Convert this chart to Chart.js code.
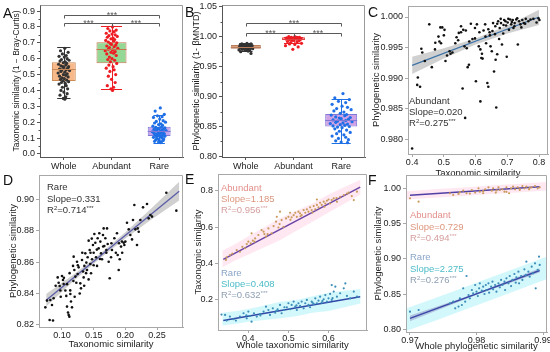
<!DOCTYPE html>
<html>
<head>
<meta charset="utf-8">
<script src="https://cdn.jsdelivr.net/npm/chart.js@4.4.1/dist/chart.umd.min.js"></script>
<style>
body { margin: 0; width: 550px; height: 352px; background: #fff; position: relative; overflow: hidden; font-family: 'Liberation Sans', Arial, sans-serif; }
canvas { position: absolute; }
.lab { position: absolute; font-size: 14px; line-height: 14px; color: #111; }
.note { position: absolute; font-size: 9.5px; line-height: 11px; white-space: nowrap; color: #333; }
.note sup { font-size: 6px; vertical-align: 3px; line-height: 0; }
</style>
</head>
<body>
<canvas id="cA"></canvas>
<canvas id="cB"></canvas>
<canvas id="cC"></canvas>
<canvas id="cD"></canvas>
<canvas id="cE"></canvas>
<canvas id="cF"></canvas>

<div class="lab" style="left:3px;top:6px">A</div>
<div class="lab" style="left:185px;top:5px">B</div>
<div class="lab" style="left:368px;top:5px">C</div>
<div class="lab" style="left:3px;top:173px">D</div>
<div class="lab" style="left:185px;top:172px">E</div>
<div class="lab" style="left:368px;top:173px">F</div>

<div class="note" style="left:409px;top:95px">Abundant<br>Slope=0.020<br>R<sup>2</sup>=0.275<sup>***</sup></div>
<div class="note" style="left:47px;top:181px;line-height:11.5px">Rare<br>Slope=0.331<br>R<sup>2</sup>=0.714<sup>***</sup></div>
<div class="note" style="left:221px;top:182px"><span style="color:#e38f8a">Abundant</span><br><span style="color:#dc967e">Slope=1.185</span><br><span style="color:#d69e9e">R<sup>2</sup>=0.956<sup>***</sup></span></div>
<div class="note" style="left:221px;top:267px"><span style="color:#8aa5c8">Rare</span><br><span style="color:#4dbcc8">Slope=0.408</span><br><span style="color:#8fa0b4">R<sup>2</sup>=0.632<sup>***</sup></span></div>
<div class="note" style="left:410px;top:209px;line-height:11.5px"><span style="color:#e38f8a">Abundant</span><br><span style="color:#dc967e">Slope=0.729</span><br><span style="color:#d69e9e">R<sup>2</sup>=0.494<sup>***</sup></span></div>
<div class="note" style="left:410px;top:251px;line-height:11.5px"><span style="color:#8aa5c8">Rare</span><br><span style="color:#4dbcc8">Slope=2.275</span><br><span style="color:#8fa0b4">R<sup>2</sup>=0.276<sup>***</sup></span></div>

<script>
const FONT = "'Liberation Sans', Arial, sans-serif";
Chart.defaults.font.family = FONT;

const CATS = ['Whole', 'Abundant', 'Rare'];
const PT = ['#333333', '#ee1d23', '#1f6fe6'];
// hand-typed jitter offsets for the box plot points
const JIT = [0.02,-0.07,0.09,-0.03,0.05,-0.10,0.01,0.07,-0.05,0.11,-0.08,0.03,-0.01,0.06,-0.11,0.04,-0.06,0.10,-0.02,0.00,
  0.08,-0.09,0.05,-0.04,0.12,-0.06,0.02,-0.12,0.07,-0.01,0.04,-0.09,0.09,-0.04,0.01,-0.07,0.06,-0.02,0.10,-0.05,
  0.03,-0.10,0.05,-0.03,0.08,-0.06,0.00,0.07,-0.08,0.04,-0.01,0.02];

// ---- A: taxonomic similarity
const aWholeY = [0.665,0.65,0.64,0.63,0.62,0.615,0.61,0.60,0.595,0.59,0.585,0.58,0.575,0.57,0.565,0.56,0.555,0.55,0.55,0.545,
  0.54,0.535,0.53,0.53,0.525,0.52,0.515,0.51,0.505,0.50,0.495,0.49,0.485,0.48,0.475,0.47,0.465,0.46,0.455,0.45,
  0.445,0.44,0.43,0.42,0.41,0.40,0.39,0.38,0.37,0.36,0.35,0.345];
const aAbunY = [0.80,0.79,0.78,0.775,0.77,0.76,0.755,0.75,0.745,0.74,0.735,0.73,0.725,0.72,0.715,0.71,0.705,0.70,0.695,0.69,
  0.685,0.68,0.675,0.67,0.665,0.66,0.655,0.65,0.645,0.64,0.635,0.63,0.62,0.61,0.60,0.595,0.59,0.58,0.57,0.56,
  0.55,0.54,0.53,0.52,0.50,0.49,0.47,0.45,0.43,0.42,0.41,0.40];
const aRareY = [0.29,0.27,0.25,0.24,0.235,0.23,0.22,0.21,0.205,0.20,0.195,0.19,0.185,0.18,0.175,0.17,0.168,0.165,0.162,0.16,
  0.157,0.155,0.152,0.15,0.148,0.145,0.142,0.14,0.138,0.135,0.132,0.13,0.127,0.125,0.122,0.12,0.117,0.115,0.112,0.11,
  0.107,0.105,0.10,0.097,0.095,0.09,0.087,0.085,0.08,0.077,0.075,0.072];
const aLow = [0.35, 0.407, 0.07];
const aQ1 = [0.46, 0.571, 0.113];
const aMed = [0.535, 0.658, 0.145];
const aQ3 = [0.577, 0.703, 0.172];
const aHigh = [0.671, 0.805, 0.245];
const aYTicks = [0, 0.1, 0.2, 0.3, 0.4, 0.5, 0.6, 0.7, 0.8, 0.9];
const aYMinor = [0.05, 0.15, 0.25, 0.35, 0.45, 0.55, 0.65, 0.75, 0.85];
const aBrackets = [[0, 2, 0.874], [0, 1, 0.826], [1, 2, 0.826]];

// ---- B: phylogenetic similarity
const bWholeY = [0.989,0.988,0.988,0.987,0.987,0.986,0.986,0.985,0.985,0.985,0.984,0.984,0.984,0.983,0.983,0.983,0.982,0.982,
  0.982,0.981,0.981,0.981,0.980,0.980,0.980,0.979,0.979,0.978,0.978,0.977,0.976,0.975,0.972];
const bAbunY = [1.000,1.000,0.999,0.999,0.999,0.998,0.998,0.998,0.998,0.997,0.997,0.997,0.997,0.996,0.996,0.996,0.995,0.995,
  0.994,0.994,0.993,0.992,0.991,0.990,0.989,0.988,0.987,0.985,0.983,0.979];
const bRareY = [0.905,0.898,0.895,0.892,0.890,0.887,0.884,0.882,0.880,0.878,0.876,0.874,0.872,0.870,0.869,0.868,0.866,0.865,
  0.864,0.863,0.862,0.861,0.860,0.859,0.858,0.857,0.856,0.855,0.854,0.853,0.852,0.851,0.850,0.849,0.848,0.846,
  0.844,0.842,0.840,0.838,0.836,0.834,0.832,0.830,0.828,0.826,0.824,0.823];
const bLow = [0.976, 0.990, 0.822];
const bQ1 = [0.980, 0.995, 0.850];
const bMed = [0.983, 0.997, 0.860];
const bQ3 = [0.986, 0.999, 0.871];
const bHigh = [0.989, 1.000, 0.896];
const bYTicks = [0.80, 0.85, 0.90, 0.95, 1.00, 1.05];
const bYMinor = [0.825, 0.875, 0.925, 0.975, 1.025];
const bBrackets = [[0, 2, 1.0223], [0, 1, 1.0056], [1, 2, 1.0056]];

// ---- C: abundant, taxonomic vs phylogenetic
const cPoints = [[0.400,0.9785],[0.416,0.9889],[0.418,0.9901],[0.425,0.9886],[0.429,0.9948],[0.432,0.9942],[0.440,0.9928],
  [0.454,0.9988],[0.462,0.9918],[0.472,0.9947],[0.473,0.9958],[0.483,0.9968],[0.486,0.9960],[0.489,0.9983],[0.491,0.9957],
  [0.495,0.9983],[0.500,0.9970],[0.502,0.9979],[0.505,0.9928],[0.510,0.9937],[0.518,0.9944],[0.521,0.9940],[0.536,0.9957],
  [0.540,0.9967],[0.547,0.9974],[0.554,0.9975],[0.554,0.9985],[0.559,0.9883],[0.561,0.9979],[0.565,0.9952],[0.567,0.9835],
  [0.569,0.9978],[0.572,0.9949],[0.579,0.9922],[0.585,0.9989],[0.590,0.9964],[0.598,0.9982],[0.601,0.9895],[0.604,0.9988],
  [0.610,0.9952],[0.615,0.9862],[0.615,0.9947],[0.620,0.9940],[0.622,0.9932],[0.625,0.9978],[0.631,0.9968],[0.633,0.9957],
  [0.637,0.9892],[0.640,0.9886],[0.644,0.9975],[0.647,0.9952],[0.651,0.9944],[0.653,0.9977],[0.658,0.9911],[0.661,0.9972],
  [0.665,0.9852],[0.668,0.9939],[0.668,0.9989],[0.674,0.9964],[0.676,0.9982],[0.680,0.9990],[0.683,0.9955],[0.687,0.9973],
  [0.690,0.9995],[0.696,0.9986],[0.698,0.9935],[0.701,0.9991],[0.705,0.9979],[0.709,0.9996],[0.712,0.9988],[0.717,0.9995],
  [0.719,0.9982],[0.723,0.9990],[0.728,0.9996],[0.733,0.9955],[0.737,0.9993],[0.741,0.9988],[0.747,0.9995],[0.752,0.9990],
  [0.758,0.9997],[0.766,0.9993],[0.773,0.9996],[0.782,0.9997],[0.792,0.9991],[0.798,0.9998],[0.801,0.9995],[0.655,0.9990],
  [0.662,0.9985],[0.671,0.9993],[0.679,0.9997],[0.688,0.9987],[0.694,0.9993],[0.703,0.9997],[0.714,0.9992],[0.722,0.9985],
  [0.731,0.9998],[0.744,0.9983],[0.756,0.9989],[0.640,0.9980],[0.645,0.9970],[0.630,0.9988],[0.612,0.9975],[0.598,0.9965],
  [0.580,0.9960],[0.527,0.9942],[0.545,0.9962],[0.575,0.9918],[0.618,0.9933],[0.663,0.9930]];
const cFitX = [0.4, 0.8];
const cFitY = [0.9921, 1.0000];
const cBandX = [0.4, 0.5, 0.6, 0.7, 0.8];
const cBandHi = [0.9935, 0.9949, 0.9965, 0.9986, 1.0012];
const cBandLo = [0.9907, 0.9932, 0.9955, 0.9973, 0.9987];
const cXTicks = [0.4, 0.5, 0.6, 0.7, 0.8];
const cYTicks = [0.980, 0.985, 0.990, 0.995, 1.000];

// ---- D: rare, taxonomic vs phylogenetic
const dPoints = [[0.0737,0.8312],[0.0763,0.8355],[0.0816,0.8359],[0.0805,0.8232],[0.0858,0.8228],[0.0842,0.8327],[0.0868,0.8370],
  [0.0932,0.8503],[0.0947,0.8469],[0.0963,0.8448],[0.0974,0.8419],[0.1000,0.8512],[0.1016,0.8486],[0.1026,0.8461],[0.1053,0.8419],
  [0.1068,0.8385],[0.1079,0.8317],[0.1095,0.8279],[0.1105,0.8264],[0.1116,0.8253],[0.1132,0.8397],[0.1142,0.8349],[0.1158,0.8312],
  [0.1174,0.8576],[0.1184,0.8635],[0.1195,0.8550],[0.1211,0.8508],[0.1226,0.8469],[0.1237,0.8603],[0.1247,0.8525],[0.1263,0.8567],
  [0.1289,0.8465],[0.1300,0.8433],[0.1316,0.8614],[0.1332,0.8540],[0.1342,0.8503],[0.1353,0.8576],[0.1368,0.8656],[0.1384,0.8597],
  [0.1395,0.8550],[0.1405,0.8631],[0.1421,0.8737],[0.1437,0.8677],[0.1447,0.8588],[0.1458,0.8529],[0.1474,0.8618],[0.1489,0.8709],
  [0.1500,0.8660],[0.1511,0.8779],[0.1526,0.8724],[0.1537,0.8631],[0.1553,0.8576],[0.1563,0.8752],[0.1579,0.8688],[0.1589,0.8784],
  [0.1605,0.8731],[0.1616,0.8656],[0.1632,0.8618],[0.1647,0.8773],[0.1658,0.8815],[0.1668,0.8703],[0.1684,0.8752],[0.1700,0.8677],
  [0.1711,0.8815],[0.1721,0.8716],[0.1737,0.8603],[0.1753,0.8497],[0.1774,0.8631],[0.1789,0.8677],[0.1826,0.8752],[0.1868,0.8784],
  [0.1879,0.8646],[0.1895,0.8550],[0.1911,0.8618],[0.1932,0.8699],[0.1947,0.8731],[0.1974,0.8724],[0.1984,0.8709],[0.2000,0.8731],
  [0.2026,0.8851],[0.2053,0.8809],[0.2079,0.8773],[0.2105,0.8745],[0.2121,0.8868],[0.2142,0.8964],[0.2158,0.8809],[0.2184,0.8709],
  [0.2195,0.8815],[0.2211,0.8794],[0.2237,0.8868],[0.2279,0.8949],[0.2342,0.8970],[0.2368,0.8879],[0.2395,0.8900],[0.2421,0.8890],
  [0.2647,0.9042],[0.2805,0.8928],[0.125,0.858],[0.132,0.866],[0.138,0.853],[0.145,0.866],[0.150,0.858],[0.155,0.868],[0.160,0.862],
  [0.142,0.849],[0.118,0.848],[0.112,0.853],[0.108,0.846],[0.103,0.850],[0.128,0.840],[0.135,0.845],[0.165,0.870],[0.170,0.866],
  [0.178,0.872],[0.185,0.866],[0.190,0.872],[0.195,0.866],[0.147,0.875],[0.120,0.838],[0.098,0.838],[0.090,0.845],[0.113,0.842]];
const dFitX = [0.075, 0.285];
const dFitY = [0.8357, 0.9052];
const dBandX = [0.075, 0.12, 0.16, 0.20, 0.24, 0.285];
const dBandHi = [0.8397, 0.8526, 0.8653, 0.8791, 0.8938, 0.9112];
const dBandLo = [0.8317, 0.8486, 0.8623, 0.8751, 0.8868, 0.8992];
const dXTicks = [0.10, 0.15, 0.20, 0.25];
const dYTicks = [0.82, 0.84, 0.86, 0.88, 0.90];

// ---- E: whole vs abundant / rare taxonomic similarity
const eAbun = [[0.344,0.420],[0.346,0.434],[0.354,0.447],[0.371,0.474],[0.379,0.465],[0.392,0.484],[0.396,0.507],[0.400,0.520],
  [0.406,0.511],[0.411,0.526],[0.408,0.566],[0.417,0.538],[0.425,0.557],[0.433,0.584],[0.438,0.575],[0.444,0.548],[0.448,0.562],
  [0.450,0.593],[0.458,0.566],[0.463,0.606],[0.469,0.630],[0.471,0.657],[0.478,0.617],[0.483,0.639],[0.488,0.602],[0.494,0.648],
  [0.500,0.657],[0.504,0.679],[0.508,0.654],[0.513,0.666],[0.517,0.679],[0.521,0.657],[0.525,0.685],[0.529,0.676],[0.533,0.666],
  [0.538,0.694],[0.542,0.679],[0.546,0.698],[0.550,0.685],[0.554,0.709],[0.558,0.694],[0.563,0.716],[0.567,0.698],[0.571,0.722],
  [0.575,0.709],[0.579,0.734],[0.583,0.722],[0.588,0.740],[0.592,0.730],[0.596,0.745],[0.600,0.752],[0.604,0.730],[0.608,0.749],
  [0.613,0.758],[0.621,0.740],[0.629,0.767],[0.638,0.776],[0.646,0.785],[0.658,0.771],[0.671,0.795],[0.663,0.749],[0.571,0.752],
  [0.479,0.685],[0.360,0.455],[0.385,0.492],[0.415,0.520],[0.440,0.562],[0.475,0.598],[0.505,0.640],[0.530,0.660],[0.560,0.680],
  [0.590,0.712],[0.620,0.760],[0.650,0.790]];
const eRare = [[0.333,0.120],[0.342,0.118],[0.346,0.087],[0.354,0.109],[0.363,0.094],[0.369,0.087],[0.379,0.109],[0.388,0.127],
  [0.396,0.099],[0.400,0.136],[0.404,0.112],[0.408,0.081],[0.414,0.127],[0.421,0.109],[0.429,0.123],[0.438,0.136],[0.444,0.163],
  [0.450,0.145],[0.454,0.118],[0.461,0.154],[0.467,0.130],[0.473,0.149],[0.479,0.173],[0.483,0.127],[0.489,0.145],[0.496,0.160],
  [0.500,0.182],[0.504,0.149],[0.508,0.173],[0.513,0.191],[0.517,0.163],[0.521,0.145],[0.525,0.182],[0.529,0.167],[0.533,0.191],
  [0.538,0.154],[0.542,0.182],[0.546,0.200],[0.550,0.173],[0.554,0.160],[0.558,0.191],[0.563,0.178],[0.567,0.209],[0.571,0.182],
  [0.575,0.196],[0.579,0.218],[0.583,0.185],[0.588,0.204],[0.592,0.227],[0.596,0.191],[0.600,0.209],[0.604,0.233],[0.608,0.200],
  [0.613,0.246],[0.617,0.273],[0.621,0.218],[0.629,0.237],[0.638,0.264],[0.642,0.291],[0.646,0.222],[0.654,0.209],[0.663,0.246],
  [0.671,0.218],[0.608,0.282],[0.470,0.140],[0.490,0.160],[0.520,0.170],[0.560,0.185],[0.585,0.195],[0.610,0.210],[0.430,0.115],
  [0.395,0.115]];
const eFitX = [0.3375, 0.679];
const eAbunFitY = [0.423, 0.820];
const eRareFitY = [0.087, 0.218];
const eBandX = [0.335, 0.37, 0.40, 0.44, 0.48, 0.52, 0.56, 0.60, 0.64, 0.68];
const eAbunHi = [0.47, 0.51, 0.55, 0.60, 0.65, 0.69, 0.73, 0.78, 0.82, 0.86];
const eAbunLo = [0.38, 0.42, 0.45, 0.49, 0.53, 0.58, 0.63, 0.68, 0.73, 0.78];
const eRareHi = [0.13, 0.14, 0.15, 0.17, 0.19, 0.20, 0.22, 0.24, 0.25, 0.26];
const eRareLo = [0.06, 0.07, 0.08, 0.09, 0.10, 0.11, 0.13, 0.14, 0.16, 0.18];
const eXTicks = [0.4, 0.5, 0.6];
const eYTicks = [0.2, 0.4, 0.6, 0.8];

// ---- F: whole vs abundant / rare phylogenetic similarity
const fAbun = [[0.9700,0.9858],[0.9713,0.9810],[0.9760,0.9930],[0.9765,0.9905],[0.9773,0.9920],[0.9780,0.9967],[0.9785,0.9930],
  [0.9793,0.9976],[0.9798,0.9939],[0.9803,1.0000],[0.9805,0.9953],[0.9810,0.9930],[0.9813,0.9986],[0.9818,1.0014],[0.9823,0.9967],
  [0.9825,1.0000],[0.9829,0.9939],[0.9833,1.0014],[0.9835,0.9976],[0.9839,0.9986],[0.9842,0.9953],[0.9845,1.0014],[0.9849,0.9930],
  [0.9852,1.0000],[0.9855,1.0024],[0.9858,0.9986],[0.9862,1.0014],[0.9865,0.9976],[0.9869,1.0033],[0.9872,1.0000],[0.9875,1.0024],
  [0.9879,0.9986],[0.9883,1.0014],[0.9888,1.0033],[0.9892,1.0000],[0.9895,1.0014],[0.9775,0.9945],[0.9790,0.9925],[0.9810,0.9960],
  [0.9830,0.9970],[0.9845,0.9950],[0.9865,0.9990],[0.9880,1.0005]];
const fRare = [[0.9700,0.8250],[0.9713,0.8274],[0.9760,0.8369],[0.9765,0.8392],[0.9768,0.8298],[0.9773,0.8322],[0.9775,0.8440],
  [0.9778,0.8345],[0.9783,0.8392],[0.9780,0.8582],[0.9785,0.8756],[0.9788,0.8487],[0.9790,0.8440],[0.9793,0.8558],[0.9795,0.8511],
  [0.9798,0.8629],[0.9800,0.8534],[0.9802,0.8473],[0.9804,0.8582],[0.9805,0.8652],[0.9808,0.8548],[0.9810,0.8605],[0.9812,0.8501],
  [0.9814,0.8629],[0.9815,0.8558],[0.9818,0.8652],[0.9819,0.8520],[0.9822,0.8605],[0.9824,0.8676],[0.9825,0.8567],[0.9828,0.8629],
  [0.9830,0.8534],[0.9833,0.8652],[0.9835,0.8596],[0.9837,0.8700],[0.9839,0.8629],[0.9842,0.8676],[0.9843,0.8558],[0.9845,0.8723],
  [0.9848,0.8652],[0.9850,0.8756],[0.9852,0.8614],[0.9854,0.8700],[0.9857,0.8785],[0.9859,0.8662],[0.9860,0.8738],[0.9863,0.8818],
  [0.9864,0.8652],[0.9867,0.8756],[0.9869,0.8700],[0.9872,0.8851],[0.9874,0.8771],[0.9875,0.8960],[0.9878,0.8818],[0.9880,0.8747],
  [0.9883,0.8889],[0.9885,0.8794],[0.9888,0.8936],[0.9889,0.8582],[0.9892,0.8842],[0.9894,0.9031],[0.9895,0.8913]];
const fFitX = [0.970, 0.9895];
const fAbunFitY = [0.9903, 1.0022];
const fRareFitY = [0.8155, 0.8835];
const fBandX = [0.9695, 0.974, 0.978, 0.982, 0.986, 0.9905];
const fAbunHi = [0.996, 0.999, 1.001, 1.004, 1.006, 1.009];
const fAbunLo = [0.984, 0.987, 0.989, 0.992, 0.994, 0.997];
const fRareHi = [0.830, 0.845, 0.859, 0.873, 0.887, 0.903];
const fRareLo = [0.798, 0.813, 0.827, 0.841, 0.855, 0.871];
const fCiX = [0.970, 0.980, 0.9895];
const fCiHi = [0.8195, 0.8510, 0.8865];
const fCiLo = [0.8115, 0.8490, 0.8805];
const fXTicks = [0.97, 0.98, 0.99];
const fYTicks = [0.80, 0.85, 0.90, 0.95, 1.00];

// ---------- layout helpers
const PAD = 12;
function place(id, r) {
  const c = document.getElementById(id);
  c.width = r.r - r.l + r.yw + PAD;
  c.height = r.b - r.t + r.xh + PAD;
  c.style.left = (r.l - r.yw) + 'px';
  c.style.top = (r.t - PAD) + 'px';
  return c;
}

function axis(o) {
  return {
    type: 'linear', min: o.min, max: o.max, offset: false,
    afterBuildTicks: s => { s.ticks = o.ticks.map(v => ({value: v})); },
    afterFit: s => { if (s.isHorizontal()) s.height = o.fit; else s.width = o.fit; },
    ticks: { callback: o.fmt, autoSkip: false, maxRotation: 0, padding: o.pad === undefined ? 2 : o.pad, color: '#222', font: {size: o.size || 9} },
    grid: { offset: false, drawOnChartArea: false, drawTicks: true, tickLength: 3, color: o.color, tickColor: o.color },
    border: { display: true, color: o.color, width: 1 },
    title: { display: !!o.title, text: o.title, padding: 0, color: '#222', font: {size: o.tsize || 9.5} }
  };
}

function pts(pairs) { return pairs.map(p => ({x: p[0], y: p[1]})); }
function xy(xs, ys) { return xs.map((x, i) => ({x: x, y: ys[i]})); }

const framePlugin = {
  id: 'frame',
  afterDatasetsDraw(chart, args, o) {
    const {ctx, chartArea: a, scales: {y}} = chart;
    const L = Math.round(a.left) + 0.5, T = Math.round(a.top) + 0.5;
    const R = Math.round(a.right) - 0.5, B = Math.round(a.bottom) + 0.5;
    ctx.save();
    ctx.lineWidth = 1;
    ctx.strokeStyle = o.color;
    ctx.beginPath();
    ctx.moveTo(L, T); ctx.lineTo(R, T); ctx.lineTo(R, B);
    ctx.stroke();
    if (o.minor) {
      ctx.strokeStyle = o.tickColor;
      ctx.beginPath();
      o.minor.forEach(v => {
        const py = Math.round(y.getPixelForValue(v)) + 0.5;
        ctx.moveTo(L - 2, py); ctx.lineTo(L, py);
      });
      ctx.stroke();
    }
    ctx.restore();
  }
};

const boxPlugin = {
  id: 'boxes',
  beforeDatasetsDraw(chart, args, o) {
    const {ctx, scales: {x, y}} = chart;
    ctx.save();
    ctx.lineWidth = 1;
    o.low.forEach((lo, i) => {
      const px = Math.round(x.getPixelForValue(i)) + 0.5;
      ctx.strokeStyle = o.whisker[i];
      ctx.beginPath();
      ctx.moveTo(px, y.getPixelForValue(lo)); ctx.lineTo(px, y.getPixelForValue(o.q1[i]));
      ctx.moveTo(px, y.getPixelForValue(o.q3[i])); ctx.lineTo(px, y.getPixelForValue(o.high[i]));
      ctx.stroke();
    });
    ctx.restore();
  },
  afterDatasetsDraw(chart, args, o) {
    const {ctx, scales: {x, y}} = chart;
    ctx.save();
    ctx.lineWidth = 1;
    o.low.forEach((lo, i) => {
      const cap = o.cap[i], half = o.boxW[i] / 2;
      ctx.strokeStyle = o.whisker[i];
      ctx.beginPath();
      [lo, o.high[i]].forEach(v => {
        const py = Math.round(y.getPixelForValue(v)) + 0.5;
        ctx.moveTo(x.getPixelForValue(i - cap), py); ctx.lineTo(x.getPixelForValue(i + cap), py);
      });
      ctx.stroke();
      ctx.strokeStyle = o.edge[i];
      ctx.beginPath();
      const pm = Math.round(y.getPixelForValue(o.med[i])) + 0.5;
      ctx.moveTo(x.getPixelForValue(i - half), pm); ctx.lineTo(x.getPixelForValue(i + half), pm);
      ctx.stroke();
    });
    ctx.strokeStyle = '#5a5a5a';
    ctx.fillStyle = '#5a5a5a';
    ctx.font = '9px ' + FONT;
    ctx.textAlign = 'center';
    ctx.textBaseline = 'alphabetic';
    o.brackets.forEach(([a, b, v]) => {
      const x1 = Math.round(x.getPixelForValue(a)) + 0.5, x2 = Math.round(x.getPixelForValue(b)) + 0.5;
      const py = Math.round(y.getPixelForValue(v)) + 0.5;
      ctx.beginPath();
      ctx.moveTo(x1, py + 3); ctx.lineTo(x1, py); ctx.lineTo(x2, py); ctx.lineTo(x2, py + 3);
      ctx.stroke();
      ctx.fillText('***', (x1 + x2) / 2, py + 2);
    });
    ctx.restore();
  }
};

function baseOptions(xA, yA, plugins) {
  return {
    responsive: false, animation: false, events: [],
    layout: { padding: { top: PAD, right: PAD, left: 0, bottom: 0 } },
    plugins: Object.assign({ legend: {display: false}, tooltip: {enabled: false} }, plugins),
    scales: { x: xA, y: yA }
  };
}

function boxChart(id, rect, ys, spread, st, fills, edges, boxW, cap, yAxis, minor, brackets) {
  const datasets = ys.map((arr, i) => ({
    data: arr.map((v, k) => ({x: i + JIT[k] * spread[i], y: v})),
    pointRadius: 1.6, pointBorderWidth: 0, backgroundColor: PT[i], borderColor: PT[i]
  }));
  CATS.forEach((c, i) => datasets.push({
    type: 'bar', data: [{x: i, y: [st.q1[i], st.q3[i]]}],
    grouped: false, categoryPercentage: 1, barPercentage: boxW[i],
    backgroundColor: fills[i], borderColor: edges[i], borderWidth: 1, borderSkipped: false
  }));
  const xA = axis({min: -0.5, max: 2.5, ticks: [0, 1, 2], fmt: v => CATS[v], fit: rect.xh, color: '#555', pad: 1});
  return new Chart(place(id, rect), {
    type: 'scatter',
    data: { datasets },
    options: baseOptions(xA, yAxis, {
      frame: { color: '#9a9a9a', tickColor: '#555', minor },
      boxes: { low: st.low, q1: st.q1, med: st.med, q3: st.q3, high: st.high, whisker: PT, edge: edges, boxW, cap, brackets }
    }),
    plugins: [boxPlugin, framePlugin]
  });
}

// ---------- A
boxChart('cA', {l: 40, t: 5, r: 183, b: 157, yw: 28, xh: 18},
  [aWholeY, aAbunY, aRareY], [1.0, 1.1, 1.2],
  {low: aLow, q1: aQ1, med: aMed, q3: aQ3, high: aHigh},
  ['#f7b98a', '#95d895', '#c7a6ec'], ['#c98a55', '#c7754f', '#7f78d6'],
  [0.5, 0.63, 0.48], [0.14, 0.22, 0.12],
  axis({min: -0.019, max: 0.938, ticks: aYTicks, fmt: v => v.toFixed(1), fit: 28, color: '#555',
    title: 'Taxonomic similarity (1 \u2212 Bray-Curtis)', tsize: 8.5}),
  aYMinor, aBrackets);

// ---------- B
boxChart('cB', {l: 222, t: 5, r: 365, b: 157, yw: 31, xh: 18},
  [bWholeY, bAbunY, bRareY], [1.2, 1.4, 1.9],
  {low: bLow, q1: bQ1, med: bMed, q3: bQ3, high: bHigh},
  ['#d9a07e', '#f08a8a', '#cfa2e6'], ['#b97d5c', '#e04040', '#7f78d6'],
  [0.63, 0.48, 0.67], [0.14, 0.2, 0.2],
  axis({min: 0.799, max: 1.053, ticks: bYTicks, fmt: v => v.toFixed(2), fit: 31, color: '#555',
    title: 'Phylogenetic similarity (1- \u03b2MNTD)', tsize: 9}),
  bYMinor, bBrackets);

// ---------- scatter panels
function lineSet(data, color, width) {
  return { type: 'line', data, borderColor: color, borderWidth: width, pointRadius: 0, fill: false };
}
function bandSet(hi, lo, color) {
  return [
    { type: 'line', data: hi, borderColor: 'transparent', pointRadius: 0, fill: '+1', backgroundColor: color },
    { type: 'line', data: lo, borderColor: 'transparent', pointRadius: 0, fill: false }
  ];
}
function scatterChart(id, rect, datasets, xA, yA) {
  return new Chart(place(id, rect), {
    type: 'scatter',
    data: { datasets },
    options: baseOptions(xA, yA, { frame: { color: '#a8a8a8' } }),
    plugins: [framePlugin]
  });
}
const GRAY = '#a8a8a8';

// C
scatterChart('cC', {l: 408, t: 6, r: 548, b: 154, yw: 37, xh: 25}, [
    { data: pts(cPoints), pointRadius: 1.3, pointBorderWidth: 0, backgroundColor: '#111' },
    lineSet(xy(cFitX, cFitY), '#3e74a8', 1.3),
    ...bandSet(xy(cBandX, cBandHi), xy(cBandX, cBandLo), 'rgba(150,150,150,0.45)')
  ],
  axis({min: 0.387, max: 0.828, ticks: cXTicks, fmt: v => v.toFixed(1), fit: 25, color: GRAY, pad: 0, title: 'Taxonomic similarity'}),
  axis({min: 0.9776, max: 1.0018, ticks: cYTicks, fmt: v => v.toFixed(3), fit: 37, color: GRAY, title: 'Phylogenetic similarity'}));

// D
scatterChart('cD', {l: 39, t: 175, r: 183, b: 327, yw: 31, xh: 23}, [
    { data: pts(dPoints), pointRadius: 1.3, pointBorderWidth: 0, backgroundColor: '#111' },
    lineSet(xy(dFitX, dFitY), '#5a5ca8', 1.3),
    ...bandSet(xy(dBandX, dBandHi), xy(dBandX, dBandLo), 'rgba(150,150,150,0.45)')
  ],
  axis({min: 0.0637, max: 0.291, ticks: dXTicks, fmt: v => v.toFixed(2), fit: 23, color: GRAY, pad: 0, title: 'Taxonomic similarity'}),
  axis({min: 0.8187, max: 0.9155, ticks: dYTicks, fmt: v => v.toFixed(2), fit: 31, color: GRAY, title: 'Phylogenetic similarity'}));

// E
scatterChart('cE', {l: 218, t: 174, r: 367, b: 330, yw: 25, xh: 21}, [
    { data: pts(eAbun), pointRadius: 1.1, pointBorderWidth: 0, backgroundColor: '#c99c5e' },
    { data: pts(eRare), pointRadius: 1.1, pointBorderWidth: 0, backgroundColor: '#3d8db8' },
    lineSet(xy(eFitX, eAbunFitY), '#6a45a6', 1.5),
    lineSet(xy(eFitX, eRareFitY), '#3048a8', 1.5),
    ...bandSet(xy(eBandX, eAbunHi), xy(eBandX, eAbunLo), 'rgba(255,190,215,0.35)'),
    ...bandSet(xy(eBandX, eRareHi), xy(eBandX, eRareLo), 'rgba(130,235,245,0.35)')
  ],
  axis({min: 0.3243, max: 0.696, ticks: eXTicks, fmt: v => v.toFixed(1), fit: 21, color: GRAY, pad: 0, title: 'Whole taxonomic similarity'}),
  axis({min: 0.035, max: 0.892, ticks: eYTicks, fmt: v => v.toFixed(1), fit: 25, color: GRAY, title: 'Taxonomic similarity'}));

// F
scatterChart('cF', {l: 406, t: 175, r: 547, b: 332, yw: 33, xh: 20}, [
    { data: pts(fAbun), pointRadius: 1.1, pointBorderWidth: 0, backgroundColor: '#c99c5e' },
    { data: pts(fRare), pointRadius: 1.1, pointBorderWidth: 0, backgroundColor: '#3d8db8' },
    lineSet(xy(fFitX, fAbunFitY), '#5040a6', 1.5),
    lineSet(xy(fFitX, fRareFitY), '#3a48a8', 1.5),
    ...bandSet(xy(fCiX, fCiHi), xy(fCiX, fCiLo), 'rgba(140,140,190,0.45)'),
    ...bandSet(xy(fBandX, fAbunHi), xy(fBandX, fAbunLo), 'rgba(255,190,215,0.35)'),
    ...bandSet(xy(fBandX, fRareHi), xy(fBandX, fRareLo), 'rgba(130,235,245,0.35)')
  ],
  axis({min: 0.9694, max: 0.9906, ticks: fXTicks, fmt: v => v.toFixed(2), fit: 20, color: GRAY, pad: 0, title: 'Whole phylogenetic similarity'}),
  axis({min: 0.7962, max: 1.0189, ticks: fYTicks, fmt: v => v.toFixed(2), fit: 33, color: GRAY, title: 'Phylogenetic similarity'}));
</script>
</body>
</html>
